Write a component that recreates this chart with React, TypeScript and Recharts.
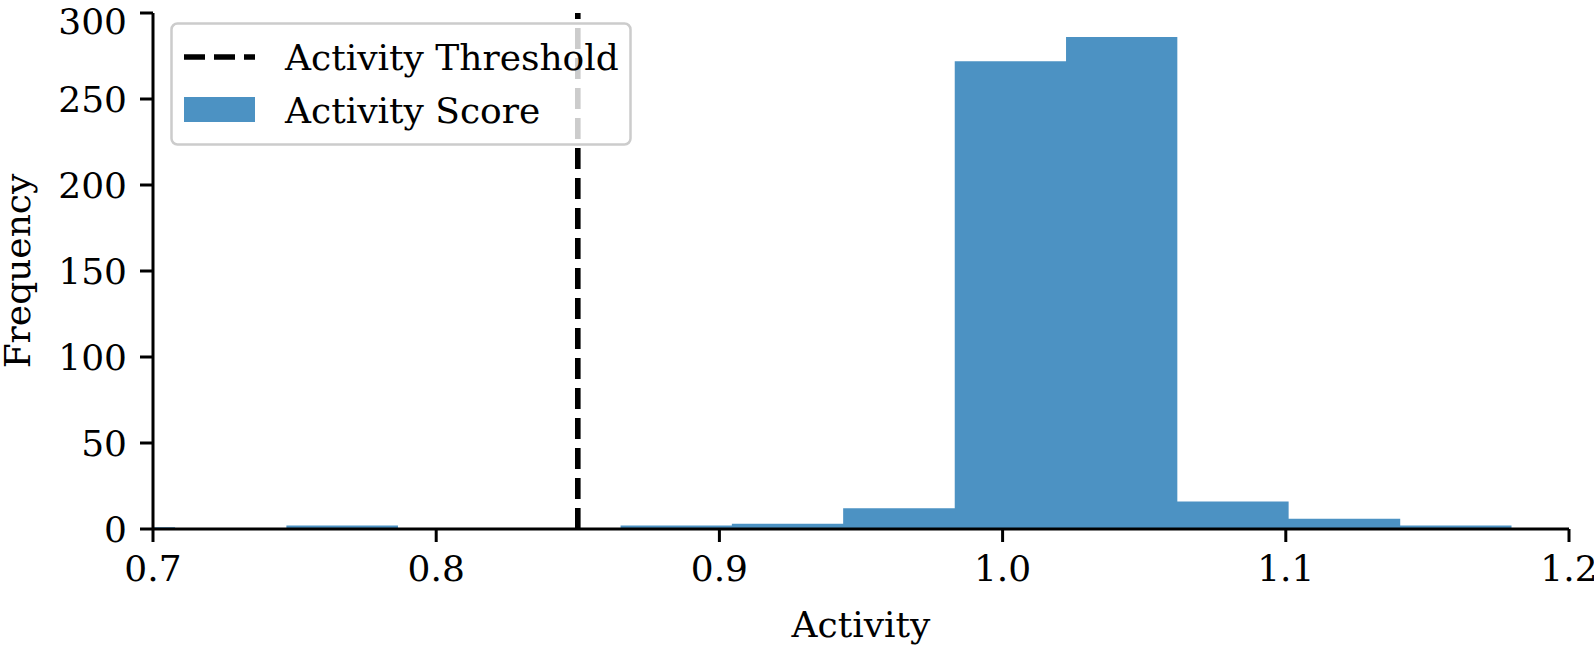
import { Area, ComposedChart, Legend, ReferenceLine, XAxis, YAxis } from 'recharts';

// histogram bins (edges in activity units, counts per bin)
const BIN_EDGES = [
  0.6685, 0.7078, 0.7471, 0.7865, 0.8258, 0.8651, 0.9044, 0.9437, 0.9831, 1.0224, 1.0617,
  1.101, 1.1404, 1.1797,
];
const BIN_COUNTS = [1, 0, 2, 0, 0, 2, 3, 12, 272, 286, 16, 6, 2];
const X_TICKS = [0.7, 0.8, 0.9, 1.0, 1.1, 1.2];
const Y_TICKS = [0, 50, 100, 150, 200, 250, 300];
const THRESHOLD = 0.85;

const FONT = '"DejaVu Serif", serif';
const FONT_SIZE = 36;
const BAR_COLOR = '#4c92c3';

// stepAfter area: each edge carries the count of the bin that starts there
const histData = BIN_EDGES.map((edge, i) => ({
  edge,
  count: i < BIN_COUNTS.length ? BIN_COUNTS[i] : 0,
}));

function LegendBox() {
  return (
    <svg width={464} height={126} style={{ display: 'block' }}>
      <rect
        x={1.5}
        y={1.5}
        width={459}
        height={121}
        rx={6}
        fill="#fff"
        fillOpacity={0.8}
        stroke="#cccccc"
        strokeWidth={2.5}
      />
      <line x1={14} y1={35} x2={85} y2={35} stroke="#000" strokeWidth={5.6} strokeDasharray="21 9" />
      <text x={115} y={48} fontFamily={FONT} fontSize={FONT_SIZE} fill="#000">
        Activity Threshold
      </text>
      <rect x={14} y={75} width={71} height={25} fill={BAR_COLOR} />
      <text x={115} y={101} fontFamily={FONT} fontSize={FONT_SIZE} fill="#000">
        Activity Score
      </text>
    </svg>
  );
}

export default function App() {
  const axisStyle = { stroke: '#000', strokeWidth: 3 };
  const tickStyle = { fill: '#000', fontSize: FONT_SIZE, fontFamily: FONT };
  return (
    <div style={{ position: 'absolute', left: 0, top: 0, background: '#fff' }}>
      <ComposedChart
        width={1594}
        height={650}
        data={histData}
        margin={{ top: 13, right: 25, left: 0, bottom: 0 }}
      >
        <XAxis
          type="number"
          dataKey="edge"
          domain={[0.7, 1.2]}
          ticks={X_TICKS}
          allowDataOverflow
          tickFormatter={(v: number) => v.toFixed(1)}
          axisLine={axisStyle}
          tickLine={axisStyle}
          tickSize={13}
          tickMargin={13}
          tick={tickStyle}
          height={121}
          label={{
            content: (props: any) => {
              const vb = props.viewBox;
              return (
                <text
                  x={vb.x + vb.width / 2}
                  y={vb.y + 108}
                  textAnchor="middle"
                  fontFamily={FONT}
                  fontSize={FONT_SIZE}
                  fill="#000"
                >
                  Activity
                </text>
              );
            },
          }}
        />
        <YAxis
          type="number"
          domain={[0, 300]}
          ticks={Y_TICKS}
          axisLine={axisStyle}
          tickLine={axisStyle}
          tickSize={13}
          tickMargin={13}
          tick={tickStyle}
          width={153}
          label={{
            content: (props: any) => {
              const vb = props.viewBox;
              const cx = vb.x + 17;
              const cy = vb.y + vb.height / 2;
              return (
                <text
                  x={cx}
                  y={cy}
                  transform={`rotate(-90 ${cx} ${cy})`}
                  textAnchor="middle"
                  dominantBaseline="central"
                  fontFamily={FONT}
                  fontSize={FONT_SIZE}
                  fill="#000"
                >
                  Frequency
                </text>
              );
            },
          }}
        />
        <Area
          type="stepAfter"
          dataKey="count"
          stroke="none"
          fill={BAR_COLOR}
          fillOpacity={1}
          isAnimationActive={false}
          activeDot={false}
          dot={false}
        />
        <ReferenceLine
          x={THRESHOLD}
          stroke="#000"
          strokeWidth={5.6}
          strokeDasharray="21 9"
        />
        <Legend
          layout="vertical"
          align="center"
          verticalAlign="middle"
          wrapperStyle={{ top: 22, left: 170, width: 'auto', height: 'auto' }}
          content={() => <LegendBox />}
        />
      </ComposedChart>
    </div>
  );
}
